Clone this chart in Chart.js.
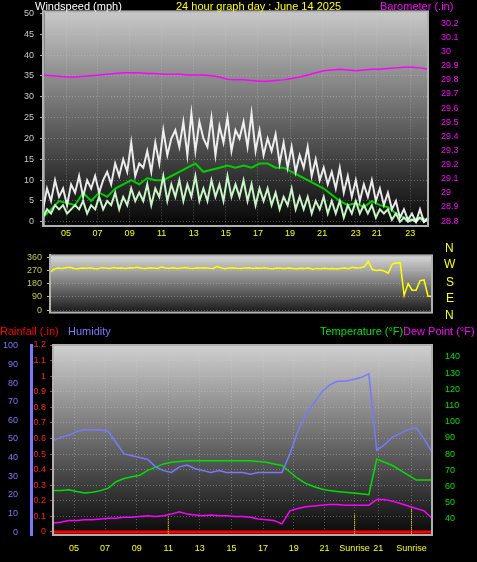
<!DOCTYPE html>
<html><head><meta charset="utf-8">
<script src="https://cdn.jsdelivr.net/npm/chart.js@4.4.1/dist/chart.umd.min.js"></script>
<style>
html,body{margin:0;padding:0;background:#000;width:477px;height:562px;overflow:hidden;font-family:"Liberation Sans",Arial,sans-serif}
.box{position:absolute;left:0;width:477px}
.t{position:absolute;font-size:11px;white-space:nowrap;line-height:12px}
</style></head><body>
<div class="box" style="top:0;height:245px"><canvas id="c1"></canvas></div>
<div class="box" style="top:245px;height:78px"><canvas id="c2"></canvas></div>
<div class="box" style="top:323px;height:239px"><canvas id="c3"></canvas></div>
<div class="t" style="left:35px;top:0;color:#fff">Windspeed (mph)</div>
<div class="t" style="left:176px;top:0;color:#ffff00">24 hour graph day : June 14 2025</div>
<div class="t" style="left:380px;top:0;color:#ff00ff">Barometer (.in)</div>
<div class="t" style="left:445px;top:242px;color:#ffff00;font-size:12px">N</div>
<div class="t" style="left:444px;top:258px;color:#ffff00;font-size:12px">W</div>
<div class="t" style="left:446px;top:276px;color:#ffff00;font-size:12px">S</div>
<div class="t" style="left:446px;top:292px;color:#ffff00;font-size:12px">E</div>
<div class="t" style="left:445px;top:309px;color:#ffff00;font-size:12px">N</div>
<div class="t" style="left:0;top:325px;color:#ff0000">Rainfall (.in)</div>
<div class="t" style="left:68px;top:325px;color:#7878ff">Humidity</div>
<div class="t" style="left:320px;top:325px;color:#00e000">Temperature (°F)</div>
<div class="t" style="left:403px;top:325px;color:#ff00ff">Dew Point (°F)</div>
<script>
// ---- data ----
const topTickPos = [1.44,3.4,5.4,7.4,9.4,11.4,13.4,15.4,17.4,19.5,20.8,22.9];
const topTickLabels = ["05","07","09","11","13","15","17","19","21","23","21","23"];
const windTicks = [0,5,10,15,20,25,30,35,40,45,50];
const baroTicks = [28.8,28.9,29,29.1,29.2,29.3,29.4,29.5,29.6,29.7,29.8,29.9,30,30.1,30.2];
const gust = [3,8,5,10,6,8,4,9,7,
 11,6,10,8,11,7,10,12,
 9,14,11,15,12,19,11,14,
 13,17,12,19,14,22,16,20,
 22,18,24,16,26,17,24,20,
 18,25,16,23,19,25,17,22,
 20,24,18,26,17,22,16,20,
 17,21,14,19,13,18,12,16,
 13,18,11,15,10,13,9,12,
 8,13,7,11,6,10,5,9,
 6,10,5,8,4,7,3,5,
 1,3,0.5,2,0,3,0,1];
const lull = [1,3,2,4,3,4,2,3,4,
 3,5,2,4,3,6,3,5,
 4,7,3,6,4,8,5,7,
 5,9,4,8,6,11,5,9,
 6,10,5,9,6,11,5,8,
 5,10,6,9,5,11,6,9,
 6,10,5,9,4,8,5,8,
 4,7,3,6,4,8,3,6,
 3,6,2,5,3,6,2,5,
 2,5,1,4,2,5,2,4,
 2,4,1,3,2,3,0.5,2,
 0,1,0,0.5,0,1,0,0.5];
const windAvg = [1,3,5,4.5,4,7,5,7,6,8,9,10,9,10.5,10,10,11,12,13,14,12,12.5,13,13.5,13,13.5,13,14,14,13,13,12,11,10,9,8,6.5,5,4,4.5,3.5,5,4,3.5,2,1,0.5,1,0.5];
const baro = [29.835,29.83,29.825,29.82,29.82,29.825,29.83,29.835,29.84,29.845,29.85,29.85,29.85,29.845,29.845,29.84,29.84,29.84,29.835,29.835,29.835,29.83,29.82,29.805,29.80,29.80,29.795,29.79,29.79,29.795,29.80,29.81,29.82,29.835,29.85,29.865,29.87,29.875,29.87,29.865,29.87,29.875,29.875,29.88,29.885,29.89,29.89,29.885,29.875];
const dirTicks = [0,90,180,270,360];
const windDir = [255,278,285,283,288,290,282,280,286,284,
 287,283,281,288,285,282,289,284,286,283,
 288,285,290,284,282,287,286,283,292,285,
 284,288,283,286,289,284,282,287,285,288,
 284,283,296,286,281,285,288,284,283,286,
 287,282,285,284,288,283,281,286,284,282,
 285,283,280,284,282,285,278,283,281,284,
 280,282,279,283,286,281,290,285,288,295,
 330,275,268,272,265,250,312,320,322,100,180,135,135,200,205,95,95];
const botTickPos = [1.33,3.3,5.3,7.3,9.3,11.3,13.3,15.25,17.2,19.1,20.6,22.7];
const botTickLabels = ["05","07","09","11","13","15","17","19","21","Sunrise","21","Sunrise"];
const humTicks = [0,10,20,30,40,50,60,70,80,90,100];
const rainTicks = [0,0.1,0.2,0.3,0.4,0.5,0.6,0.7,0.8,0.9,1,1.1,1.2];
const tempTicks = [40,50,60,70,80,90,100,110,120,130,140];
const humidity = [49,51,52,54,55,55,55,54,48,42,41,40,39,35,33,32,35,36,34,33,32,33,32,32,32,31,32,32,32,32,42,54,63,69,75,79,81,81,82,83,85,44,47,51,53,55,56,50,43];
const temperature = [57.5,57.5,58,57,56,56.5,57.5,59,63,65,66,67,70,72,74,75,75.5,76,76,76,76,76,76,76,76,76,75.5,75,74,73,69,65,62,60,58.5,57.5,57,56.5,56,55.5,55,77,75,73,70,67,64,64,64];
const dewPoint = [37.5,38,39,39,39.5,39.5,40,40.5,40.5,41,41,41.5,42,41.5,42,43,44.5,43,42.5,42,42.5,42,42,41.5,41.5,41,40,39.5,39,37,45,46.5,47.5,48,48.5,49,49,48.5,48.5,48.5,48.5,52,52,51,49.5,48,46.5,45,40.5];
const rain = [0,0,0,0,0,0,0,0,0,0,0,0,0,0,0,0,0,0,0,0,0,0,0,0,0,0,0,0,0,0,0,0,0,0,0,0,0,0,0,0,0,0,0,0,0,0,0,0,0];
const sunMarks = [7.3,19.1,22.7];
const sunMarkTop = [8,10,14];

// ---- helpers ----
const pts=(arr,step)=>arr.map((v,i)=>({x:i*step,y:v}));
const fixTicks=(vals)=>(s)=>{s.ticks=vals.map(v=>({value:v}));};
const plain=(v)=>String(Math.round(v*100)/100);
const bg={id:'bg',beforeDraw(c,a,o){const x=c.ctx,ca=c.chartArea;x.save();x.fillStyle='#000';x.fillRect(0,0,c.width,c.height);
 const g=x.createLinearGradient(0,ca.top,0,ca.bottom);g.addColorStop(0,o.top||'#d0d0d0');g.addColorStop(1,o.bot||'#080808');
 x.fillStyle=g;x.fillRect(ca.left,ca.top,ca.right-ca.left,ca.bottom-ca.top);x.restore();},
 afterDraw(c){const x=c.ctx,ca=c.chartArea;x.save();x.strokeStyle='#b0b0b0';x.lineWidth=2;x.strokeRect(ca.left,ca.top,ca.right-ca.left,ca.bottom-ca.top);x.restore();}};
const F={family:'"Liberation Sans",Arial,sans-serif',size:9};
const gridC='rgba(210,210,210,0.35)';
function ln(data,color,w,axis,extra){return Object.assign({data,borderColor:color,borderWidth:w,pointRadius:0,tension:0,yAxisID:axis},extra||{});}
Chart.defaults.animation=false;

new Chart(document.getElementById('c1'),{type:'line',
 data:{datasets:[
  ln(pts(baro,0.5),'#ff00ff',1.5,'yb'),
  ln(pts(gust,0.25),'rgba(255,255,255,0.9)',2,'y'),
  ln(pts(lull,0.25),'#c8f5c8',2,'y'),
  ln(pts(windAvg,0.5),'#00d000',2,'y')]},
 options:{responsive:true,maintainAspectRatio:false,layout:{padding:{top:10}},
  plugins:{legend:{display:false},tooltip:{enabled:false},bg:{top:'#c8c8c8',bot:'#050505'}},
  scales:{
   x:{type:'linear',min:0,max:24,afterBuildTicks:fixTicks(topTickPos),afterFit:s=>{s.height=19},
      ticks:{color:'#ffff00',font:F,padding:2,callback:(v,i)=>topTickLabels[i]},grid:{color:gridC,drawTicks:false},border:{dash:[1,2],color:'#b0b0b0'}},
   y:{position:'left',min:-1,max:50.5,afterBuildTicks:fixTicks(windTicks),afterFit:s=>{s.width=43},
      ticks:{color:'#c8c8c8',font:F,padding:6},grid:{color:gridC,tickLength:3,tickColor:'#aaa'},border:{dash:[1,2],color:'#888',width:3}},
   yb:{position:'right',min:28.765,max:30.285,afterBuildTicks:fixTicks(baroTicks),afterFit:s=>{s.width=49},
      ticks:{color:'#ff00ff',font:F,padding:5,callback:plain},grid:{display:false},border:{color:'#ff00ff',width:1}}
  }},plugins:[bg]});

new Chart(document.getElementById('c2'),{type:'line',
 data:{datasets:[ln(pts(windDir,0.25),'#ffff00',1.5,'y')]},
 options:{responsive:true,maintainAspectRatio:false,layout:{padding:{top:2,bottom:6,right:45}},
  plugins:{legend:{display:false},tooltip:{enabled:false},bg:{top:'#d8d8d8',bot:'#181818'}},
  scales:{
   x:{type:'linear',min:0,max:24,display:false},
   y:{position:'left',min:-16.6,max:371,afterBuildTicks:fixTicks(dirTicks),afterFit:s=>{s.width=50},
      ticks:{color:'#c8c840',font:F,padding:5},grid:{color:gridC,tickLength:3,tickColor:'#cccc40'},border:{dash:[1,2],color:'#cccc40',width:2}}
  }},plugins:[bg]});

const sunSets=sunMarks.map((m,i)=>ln([{x:m,y:-2},{x:m,y:sunMarkTop[i]}],'#ffff00',1,'yh',{borderDash:[1,1]}));
new Chart(document.getElementById('c3'),{type:'line',
 data:{datasets:[
  ln(pts(humidity,0.5),'#7878ff',1.5,'yh'),
  ln(pts(temperature,0.5),'#00e000',1.5,'yt'),
  ln(pts(dewPoint,0.5),'#ff00ff',1.5,'yt'),
  ...sunSets,
  ln(pts(rain,0.5),'#ff0000',3,'yr')]},
 options:{responsive:true,maintainAspectRatio:false,layout:{padding:{top:22}},
  plugins:{legend:{display:false},tooltip:{enabled:false},bg:{top:'#d0d0d0',bot:'#080808'}},
  scales:{
   x:{type:'linear',min:0,max:24,afterBuildTicks:fixTicks(botTickPos),afterFit:s=>{s.height=27},
      ticks:{color:'#ffff00',font:F,padding:8,maxRotation:0,autoSkip:false,callback:(v,i)=>botTickLabels[i]},grid:{color:gridC,drawTicks:false},border:{dash:[1,2],color:'#b0b0b0'}},
   yh:{position:'left',weight:1,min:-1.6,max:100.5,afterBuildTicks:fixTicks(humTicks),afterFit:s=>{s.width=31},
      ticks:{color:'#7878ff',font:F,padding:5},grid:{display:false},border:{color:'#7878ff',width:3}},
   yr:{position:'left',weight:0,min:-0.02,max:1.2,afterBuildTicks:fixTicks(rainTicks),afterFit:s=>{s.width=22},
      ticks:{color:'#ff2020',font:F,padding:4,callback:plain},grid:{color:gridC,tickLength:3,tickColor:'#ff2020'},border:{dash:[1,2],color:'#ff4040',width:2}},
   yt:{position:'right',min:30.1,max:147.4,afterBuildTicks:fixTicks(tempTicks),afterFit:s=>{s.width=45},
      ticks:{color:'#00e000',font:F,padding:5},grid:{display:false},border:{color:'#00e000',width:2}}
  }},plugins:[bg]});
</script></body></html>
